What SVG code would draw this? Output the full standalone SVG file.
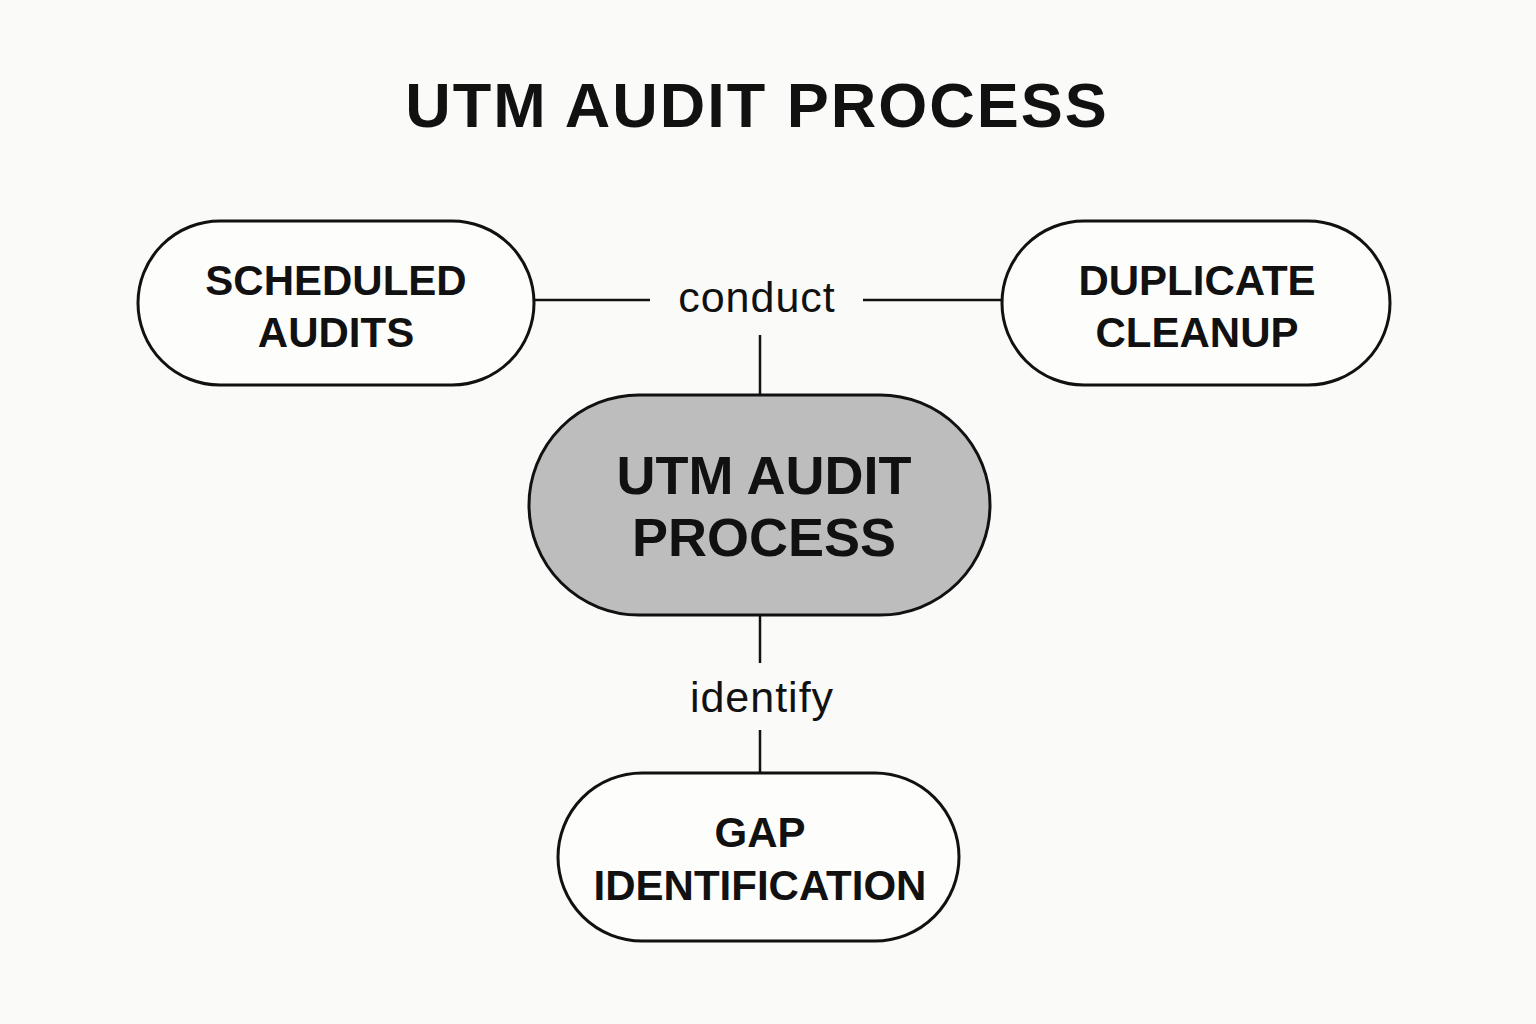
<svg xmlns="http://www.w3.org/2000/svg" width="1536" height="1024" viewBox="0 0 1536 1024">
<style>
.n{fill:#fdfdfb;stroke:#111;stroke-width:3}
.t{font-family:"Liberation Sans",Arial,sans-serif;font-weight:bold;fill:#111;text-anchor:middle}
.l{font-family:"Liberation Sans",Arial,sans-serif;fill:#111;text-anchor:middle;font-size:43px;letter-spacing:1px}
.c{stroke:#111;stroke-width:2.5;fill:none}
</style>
<rect width="1536" height="1024" fill="#fafaf8"/>
<text class="t" x="757" y="127" font-size="63" letter-spacing="2">UTM AUDIT PROCESS</text>
<g id="connectors">
<path class="c" d="M534 300H650M863 300H1002M760 335V395M760 615V663M760 730V773"/>
<text class="l" x="757" y="312">conduct</text>
<text class="l" x="762" y="712">identify</text>
</g>
<g id="scheduled">
<rect class="n" x="138" y="221" width="396" height="164" rx="82"/>
<text class="t" x="336" y="295" font-size="42">SCHEDULED</text>
<text class="t" x="336" y="347" font-size="42">AUDITS</text>
</g>
<g id="duplicate">
<rect class="n" x="1002" y="221" width="388" height="164" rx="82"/>
<text class="t" x="1197" y="295" font-size="42">DUPLICATE</text>
<text class="t" x="1197" y="347" font-size="42">CLEANUP</text>
</g>
<g id="center">
<rect class="n" x="529" y="395" width="461" height="220" rx="110" style="fill:#bdbdbd"/>
<text class="t" x="764" y="494" font-size="54">UTM AUDIT</text>
<text class="t" x="764" y="556" font-size="54">PROCESS</text>
</g>
<g id="gap">
<rect class="n" x="558" y="773" width="401" height="168" rx="84"/>
<text class="t" x="760" y="847" font-size="42">GAP</text>
<text class="t" x="760" y="900" font-size="42">IDENTIFICATION</text>
</g>
</svg>
